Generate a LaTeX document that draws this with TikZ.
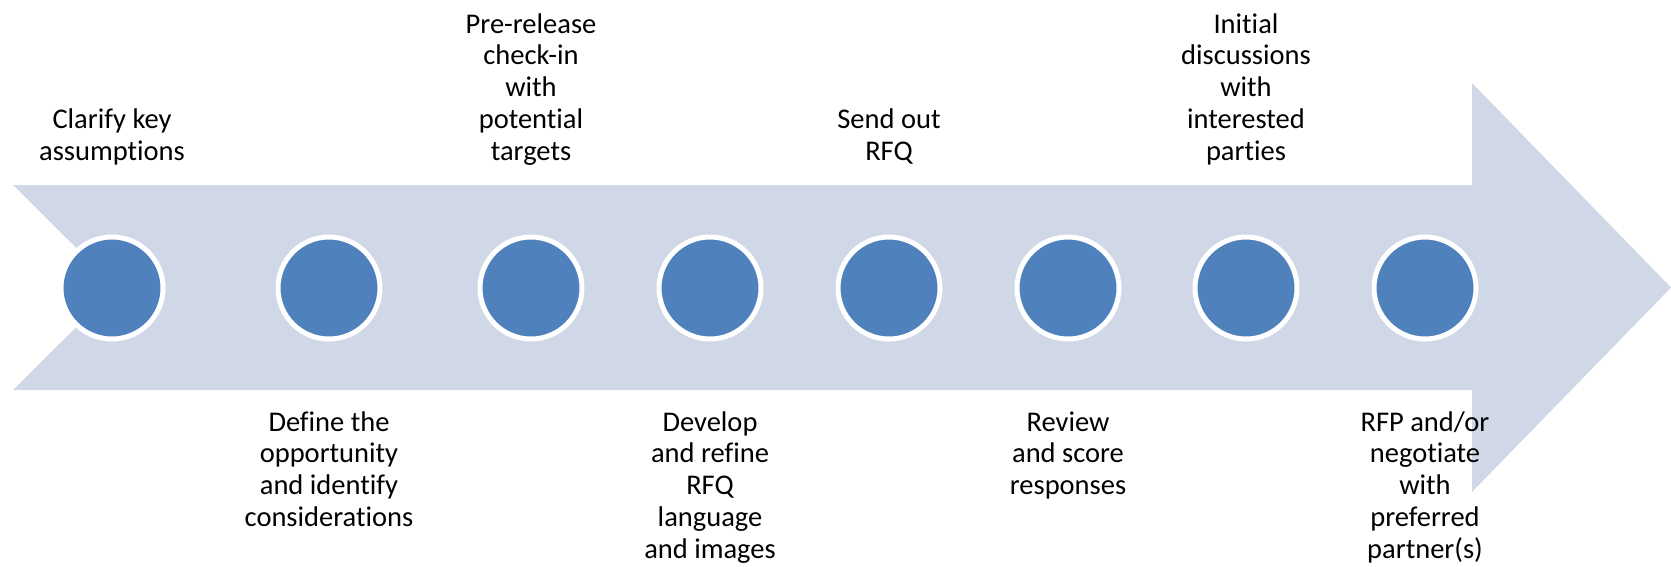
\documentclass[tikz,border=0pt]{standalone}
\usepackage{fontspec}
\setmainfont{Carlito}[Ligatures=NoCommon]
\definecolor{bandfill}{RGB}{208,216,232}
\definecolor{dotblue}{RGB}{79,129,189}
\begin{document}
\begin{tikzpicture}[x=1pt,y=-1pt,
  dot/.style={circle,fill=dotblue,draw=white,line width=5pt,minimum size=102pt,inner sep=0pt},
  steplabel/.style={align=center,anchor=base,inner sep=0pt,
    font=\fontsize{28.5}{31.75}\selectfont}]
\useasboundingbox (0,0) rectangle (1671,566);
% notched block arrow running left to right
\fill[bandfill] (13,185) -- (1472,185) -- (1472,83) -- (1671,287.5)
  -- (1472,492) -- (1472,390) -- (13,390) -- (116,287.5) -- cycle;
% milestones
\node[dot] (c1) at (112,288) {};
\node[dot] (c2) at (329,288) {};
\node[dot] (c3) at (531,288) {};
\node[dot] (c4) at (710,288) {};
\node[dot] (c5) at (889,288) {};
\node[dot] (c6) at (1068,288) {};
\node[dot] (c7) at (1246,288) {};
\node[dot] (c8) at (1425,288) {};
% labels above the arrow (placed by their last baseline)
\node[steplabel] (t1) at (112,160) {Clarify key\\assumptions};
\node[steplabel] (t3) at (531,160) {Pre-release\\check-in\\with\\potential\\targets};
\node[steplabel] (t5) at (889,160) {Send out\\RFQ};
\node[steplabel] (t7) at (1246,160) {Initial\\discussions\\with\\interested\\parties};
% labels below the arrow (first baseline at 431)
\node[steplabel] (t2) at (329,526.25) {Define the\\opportunity\\and identify\\considerations};
\node[steplabel] (t4) at (710,558) {Develop\\and refine\\RFQ\\language\\and images};
\node[steplabel] (t6) at (1068,494.5) {Review\\and score\\responses};
\node[steplabel] (t8) at (1425,558) {RFP and/or\\negotiate\\with\\preferred\\partner(s)};
\end{tikzpicture}
\end{document}
